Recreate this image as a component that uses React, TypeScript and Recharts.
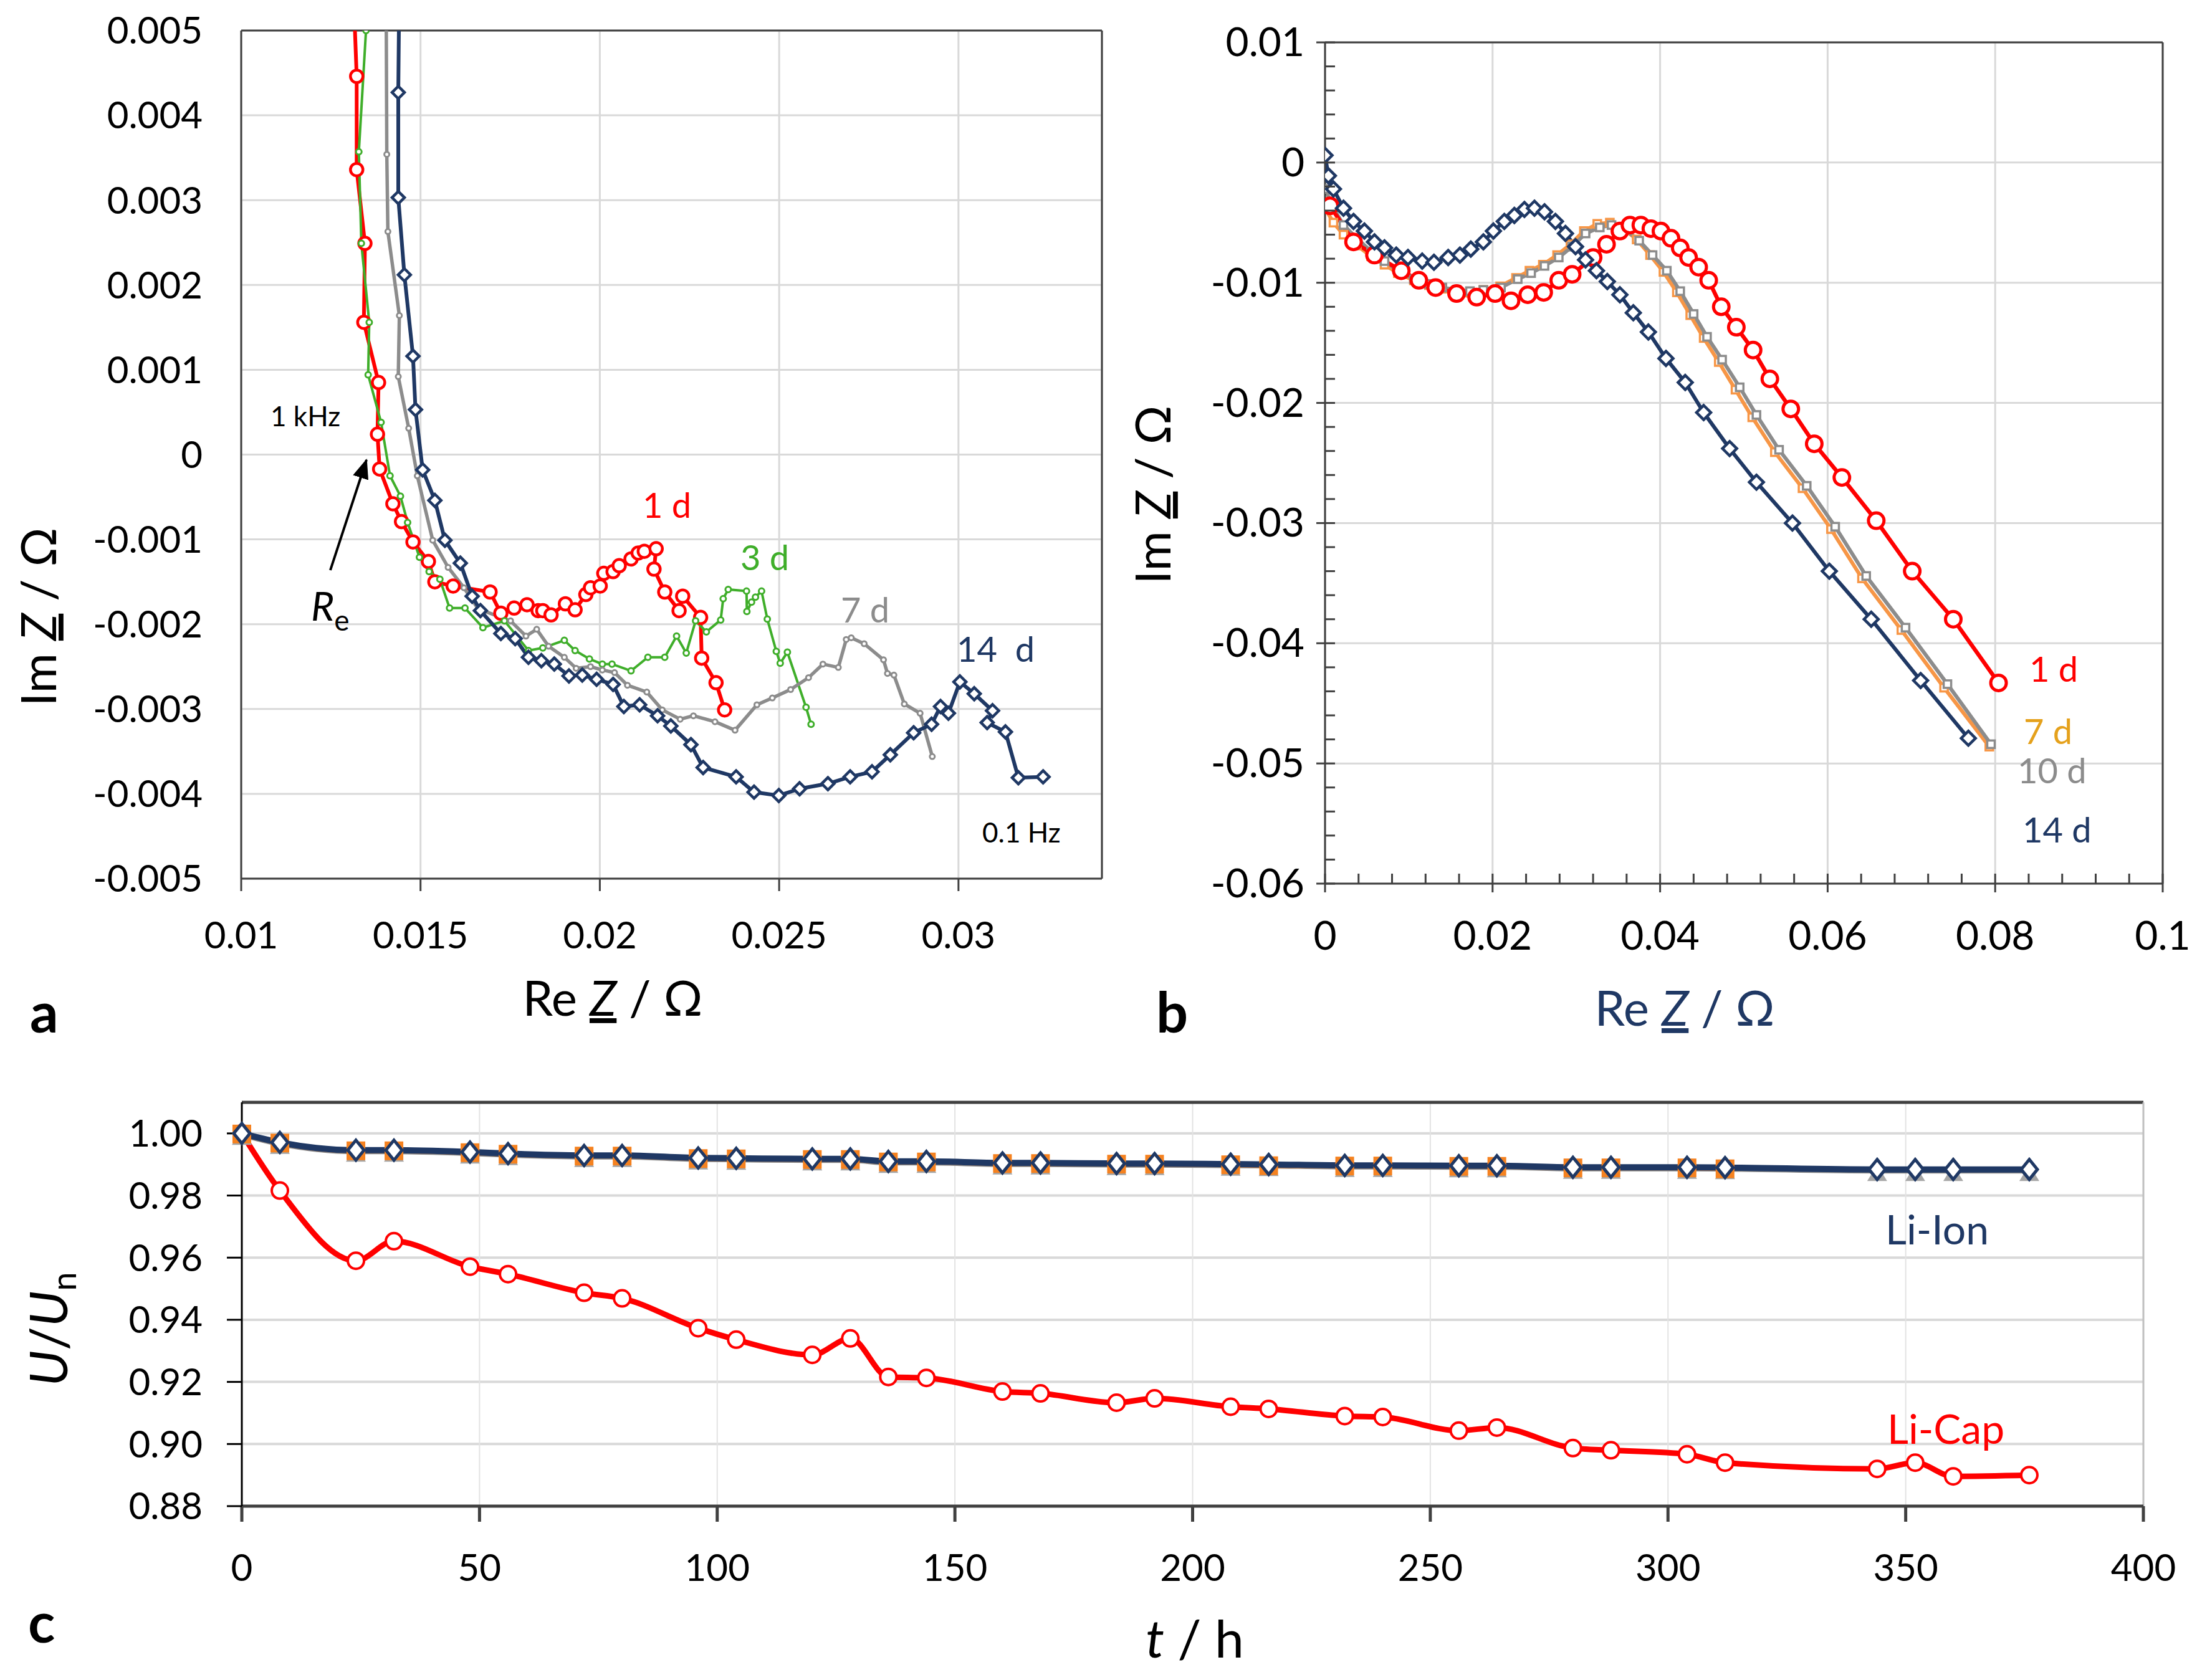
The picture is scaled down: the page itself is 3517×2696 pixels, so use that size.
import React from 'react';
import { LineChart, Line, XAxis, YAxis, CartesianGrid, ReferenceLine } from 'recharts';

const FONT = 'Lato, "Open Sans", sans-serif';
const RED = '#FF0000';
const GREEN = '#3FAE2A';
const GRAY = '#8C8C8C';
const NAVY = '#1F3864';
const ORANGE = '#F79646';
const GOLD = '#E5A11C';
const AXIS = '#404040';
const GRID = '#D9D9D9';

// ---------- panel a: Nyquist, zoomed (Re, Im) ----------
const aXTicks = [0.01, 0.015, 0.02, 0.025, 0.03];
const aYTicks = [0.005, 0.004, 0.003, 0.002, 0.001, 0, -0.001, -0.002, -0.003, -0.004, -0.005];

const a1d = [
  [0.0131, 0.0058], [0.01322, 0.00446], [0.01322, 0.00336], [0.01345, 0.00249], [0.01342, 0.00156],
  [0.01383, 0.00085], [0.0138, 0.00024], [0.01386, -0.00017], [0.01423, -0.00058], [0.01447, -0.00079],
  [0.01479, -0.00103], [0.01522, -0.00126], [0.0154, -0.0015], [0.01591, -0.00155], [0.01694, -0.00162],
  [0.01724, -0.00187], [0.01761, -0.00181], [0.01797, -0.00177], [0.01828, -0.00184], [0.01841, -0.00184],
  [0.01864, -0.00189], [0.01904, -0.00176], [0.01931, -0.00183], [0.01961, -0.00165], [0.01974, -0.00157],
  [0.02001, -0.00155], [0.02011, -0.0014], [0.02037, -0.00138], [0.02054, -0.00131], [0.02087, -0.00123],
  [0.02107, -0.00116], [0.02124, -0.00114], [0.02157, -0.00111], [0.02151, -0.00135], [0.02181, -0.00162],
  [0.02221, -0.00184], [0.02231, -0.00167], [0.02281, -0.00192], [0.02284, -0.0024], [0.02324, -0.00269],
  [0.02348, -0.00301],
];
const a3d = [
  [0.01348, 0.005], [0.01328, 0.00357], [0.01335, 0.00249], [0.01357, 0.00156], [0.01354, 0.00094],
  [0.0139, 0.00038], [0.01415, -0.00025], [0.01444, -0.00049], [0.01464, -0.0008], [0.01497, -0.00121],
  [0.01524, -0.00138], [0.01554, -0.00147], [0.01581, -0.00181], [0.01624, -0.00181], [0.01674, -0.00204],
  [0.01734, -0.00196], [0.01801, -0.00231], [0.01841, -0.00228], [0.01901, -0.00219], [0.01931, -0.00231],
  [0.01971, -0.00241], [0.02007, -0.00247], [0.02034, -0.00247], [0.02087, -0.00255], [0.02134, -0.00239],
  [0.02181, -0.00239], [0.02214, -0.00214], [0.02241, -0.00234], [0.02267, -0.00196], [0.02297, -0.00209],
  [0.02337, -0.00195], [0.02344, -0.0017], [0.02358, -0.00159], [0.02409, -0.00161], [0.0241, -0.00185],
  [0.02423, -0.00174], [0.02434, -0.00168], [0.02451, -0.00161], [0.02467, -0.00194], [0.02492, -0.00232],
  [0.02503, -0.00246], [0.02523, -0.00233], [0.02575, -0.00298], [0.02589, -0.00318],
];
const a7d = [
  [0.01404, 0.0056], [0.01406, 0.00354], [0.01409, 0.00263], [0.01441, 0.00164], [0.01438, 0.00092],
  [0.01467, 0.00031], [0.01491, -0.00025], [0.01534, -0.00101], [0.01577, -0.00133], [0.01621, -0.00157],
  [0.01661, -0.00182], [0.01751, -0.00196], [0.01794, -0.00214], [0.01824, -0.00206], [0.01857, -0.00226],
  [0.01901, -0.00239], [0.01934, -0.00252], [0.01974, -0.0025], [0.02007, -0.00254], [0.02041, -0.00257],
  [0.02077, -0.00272], [0.02131, -0.0028], [0.02174, -0.00301], [0.02224, -0.00312], [0.02261, -0.00308],
  [0.02321, -0.00315], [0.02377, -0.00325], [0.02438, -0.00295], [0.02481, -0.00287], [0.02532, -0.00277],
  [0.02582, -0.00263], [0.02622, -0.00247], [0.02665, -0.00251], [0.02687, -0.00218], [0.02701, -0.00216],
  [0.02737, -0.00223], [0.02791, -0.00242], [0.02802, -0.00258], [0.0282, -0.0026], [0.02849, -0.00294],
  [0.02893, -0.00305], [0.02927, -0.00356],
];
const a14d = [
  [0.01441, 0.0056], [0.01438, 0.00427], [0.01438, 0.00303], [0.01455, 0.00212], [0.01479, 0.00116],
  [0.01486, 0.00053], [0.01506, -0.00018], [0.0154, -0.00054], [0.01568, -0.00101], [0.01611, -0.00128],
  [0.01644, -0.00167], [0.01667, -0.00184], [0.01724, -0.00211], [0.01764, -0.00217], [0.01801, -0.00239],
  [0.01837, -0.00243], [0.01873, -0.00247], [0.01914, -0.00261], [0.01951, -0.0026], [0.01991, -0.00265],
  [0.02037, -0.00271], [0.02067, -0.00297], [0.02111, -0.00295], [0.02161, -0.00308], [0.02198, -0.0032],
  [0.02254, -0.00342], [0.02288, -0.00369], [0.0238, -0.0038], [0.0243, -0.00398], [0.02499, -0.00402],
  [0.02557, -0.00394], [0.02636, -0.00388], [0.02698, -0.0038], [0.02759, -0.00374], [0.0281, -0.00354],
  [0.02875, -0.00328], [0.02925, -0.00318], [0.0295, -0.00297], [0.02972, -0.00305], [0.03004, -0.00268],
  [0.03044, -0.00282], [0.03095, -0.00302], [0.0308, -0.00316], [0.03131, -0.00327], [0.03167, -0.00381],
  [0.03236, -0.0038],
];

// ---------- panel b: Nyquist, full ----------
const bXMajor = [0, 0.02, 0.04, 0.06, 0.08, 0.1];
const bYMajor = [0.01, 0, -0.01, -0.02, -0.03, -0.04, -0.05, -0.06];

const b1d = [
  [0.0006, -0.0036], [0.0034, -0.0066], [0.0059, -0.0077], [0.0091, -0.009], [0.0112, -0.0098],
  [0.0132, -0.0104], [0.0157, -0.0109], [0.0181, -0.0112], [0.0203, -0.0109], [0.0222, -0.0115],
  [0.0242, -0.011], [0.0261, -0.0108], [0.0279, -0.0098], [0.0295, -0.0093], [0.032, -0.0079],
  [0.0336, -0.0068], [0.0352, -0.0057], [0.0364, -0.0052], [0.0377, -0.0052], [0.0389, -0.0055],
  [0.0401, -0.0057], [0.0413, -0.0063], [0.0424, -0.0071], [0.0434, -0.0079], [0.0446, -0.0087],
  [0.0458, -0.0098], [0.0473, -0.012], [0.0491, -0.0137], [0.0511, -0.0156], [0.0531, -0.018],
  [0.0556, -0.0205], [0.0584, -0.0234], [0.0617, -0.0262], [0.0658, -0.0298], [0.0701, -0.034],
  [0.075, -0.038], [0.0804, -0.0433],
];
const b7d = [
  [0, -0.0038], [0.001, -0.005], [0.0022, -0.006], [0.0038, -0.0069], [0.0055, -0.0078],
  [0.0071, -0.0085], [0.0087, -0.0092], [0.0106, -0.0098], [0.0124, -0.0102], [0.014, -0.0105],
  [0.0157, -0.0107], [0.0173, -0.0108], [0.0189, -0.0106], [0.0209, -0.0103], [0.0228, -0.0096],
  [0.0244, -0.009], [0.026, -0.0085], [0.0277, -0.0077], [0.0293, -0.0068], [0.0309, -0.0057],
  [0.0325, -0.0051], [0.034, -0.005], [0.0356, -0.0055], [0.0372, -0.0064], [0.0388, -0.0077],
  [0.0404, -0.0091], [0.042, -0.0108], [0.0436, -0.0127], [0.0452, -0.0146], [0.047, -0.0166],
  [0.049, -0.0189], [0.051, -0.0212], [0.0537, -0.0241], [0.057, -0.0271], [0.0604, -0.0305],
  [0.0641, -0.0346], [0.0688, -0.0389], [0.0739, -0.0437], [0.0793, -0.0486],
];
const b10d = [
  [0, -0.0022], [0.001, -0.0038], [0.0022, -0.0052], [0.0038, -0.0063], [0.0055, -0.0074],
  [0.0071, -0.0082], [0.0087, -0.009], [0.0106, -0.0097], [0.0124, -0.0101], [0.014, -0.0104],
  [0.0157, -0.0106], [0.0173, -0.0107], [0.0189, -0.0106], [0.021, -0.0104], [0.023, -0.0097],
  [0.0246, -0.0092], [0.0262, -0.0086], [0.0279, -0.0079], [0.0295, -0.007], [0.0311, -0.0059],
  [0.0328, -0.0054], [0.0342, -0.0052], [0.0359, -0.0056], [0.0375, -0.0065], [0.0391, -0.0077],
  [0.0408, -0.009], [0.0424, -0.0107], [0.044, -0.0126], [0.0456, -0.0145], [0.0474, -0.0164],
  [0.0495, -0.0187], [0.0515, -0.021], [0.0542, -0.0239], [0.0575, -0.0269], [0.0609, -0.0303],
  [0.0646, -0.0344], [0.0693, -0.0387], [0.0743, -0.0434], [0.0795, -0.0484],
];
const b14d = [
  [0, 0.0006], [0.0004, -0.0011], [0.001, -0.0022], [0.0022, -0.0038], [0.0034, -0.0049],
  [0.0047, -0.0057], [0.0059, -0.0066], [0.0071, -0.0071], [0.0085, -0.0077], [0.0099, -0.0079],
  [0.0116, -0.0082], [0.013, -0.0083], [0.0147, -0.0079], [0.0161, -0.0077], [0.0174, -0.0072],
  [0.0189, -0.0066], [0.0201, -0.0057], [0.0214, -0.0049], [0.0226, -0.0044], [0.0238, -0.0039],
  [0.025, -0.0038], [0.0262, -0.0041], [0.0275, -0.0049], [0.0287, -0.0059], [0.0299, -0.007],
  [0.0311, -0.0081], [0.0324, -0.009], [0.0337, -0.0099], [0.0352, -0.011], [0.0368, -0.0125],
  [0.0386, -0.0141], [0.0407, -0.0163], [0.043, -0.0183], [0.0452, -0.0208], [0.0483, -0.0238],
  [0.0515, -0.0266], [0.0558, -0.03], [0.0602, -0.034], [0.0652, -0.038], [0.0711, -0.0431],
  [0.0768, -0.0479],
];

// ---------- panel c: voltage retention ----------
const cXTicks = [0, 50, 100, 150, 200, 250, 300, 350, 400];
const cYTicks = [0.88, 0.9, 0.92, 0.94, 0.96, 0.98, 1.0];
const hours = [0, 8, 24, 32, 48, 56, 72, 80, 96, 104, 120, 128, 136, 144, 160, 168, 184, 192, 208, 216, 232, 240, 256, 264, 280, 288, 304, 312, 344, 352, 360, 376];
const liCap = [1.0, 0.9816, 0.959, 0.9653, 0.9571, 0.9547, 0.9487, 0.9469, 0.9373, 0.9336, 0.9287, 0.934, 0.9216, 0.9213, 0.9169, 0.9163, 0.9133, 0.9147, 0.912, 0.9113, 0.909, 0.9087, 0.9043, 0.9053, 0.8987, 0.898, 0.8967, 0.894, 0.892, 0.894, 0.8896, 0.89];
const liIon = [1.0, 0.9971, 0.9946, 0.9946, 0.994, 0.9935, 0.9929, 0.9929, 0.9921, 0.992, 0.9918, 0.9918, 0.991, 0.991, 0.9905, 0.9905, 0.9903, 0.9903, 0.9901, 0.99, 0.9897, 0.9897, 0.9896, 0.9896, 0.9891, 0.9891, 0.9891, 0.989, 0.9884, 0.9884, 0.9884, 0.9884];
const liIonB = [0.9998, 0.9969, 0.9944, 0.9944, 0.9938, 0.9933, 0.9927, 0.9927, 0.9919, 0.9918, 0.9916, 0.9916, 0.9908, 0.9908, 0.9903, 0.9903, 0.9901, 0.9901, 0.9899, 0.9896, 0.9895, 0.9895, 0.9894, 0.9894, 0.9889, 0.9889, 0.9889, 0.9886, null, null, null, null];
const liIonC = [0.9995, 0.9966, 0.9941, 0.9941, 0.9935, 0.993, 0.9924, 0.9924, 0.9916, 0.9915, 0.9913, 0.9913, 0.9905, 0.9905, 0.99, 0.99, 0.9898, 0.9898, 0.9896, 0.9895, 0.9892, 0.9892, 0.9891, 0.9891, 0.9886, 0.9886, 0.9886, 0.9885, 0.9879, 0.9879, 0.9879, 0.9879];

const pts = (a: number[][]) => a.map(([x, y]) => ({ x, y }));
const cRows = hours.map((t, i) => ({ t, cap: liCap[i], ion: liIon[i], ionB: liIonB[i], ionC: liIonC[i] }));

const splitTicks = (major: number[]) => {
  const s = [...major].sort((p, q) => p - q);
  const out: number[] = [];
  for (let i = 0; i < s.length - 1; i++) {
    for (let k = 0; k < 5; k++) out.push(s[i] + ((s[i + 1] - s[i]) * k) / 5);
  }
  out.push(s[s.length - 1]);
  return out;
};
const bXTicks = splitTicks(bXMajor);
const bYTicks = splitTicks(bYMajor);
const findMajor = (list: number[], v: number) => list.find((m) => Math.abs(m - v) < 1e-9);

// ---------- marker shapes ----------
const empty = (p: any) => <g key={`e${p.index}`} />;
const circleDot = (color: string, r: number, sw: number) => (p: any) =>
  p.cx == null || p.cy == null ? empty(p) : (
    <circle key={`c${p.index}`} cx={p.cx} cy={p.cy} r={r} fill="#fff" stroke={color} strokeWidth={sw} />
  );
const diamondDot = (color: string, w: number, h: number, sw: number) => (p: any) =>
  p.cx == null || p.cy == null ? empty(p) : (
    <path key={`d${p.index}`} d={`M${p.cx},${p.cy - h}L${p.cx + w},${p.cy}L${p.cx},${p.cy + h}L${p.cx - w},${p.cy}Z`} fill="#fff" stroke={color} strokeWidth={sw} />
  );
const squareDot = (color: string, s: number, sw: number, fill = '#fff') => (p: any) =>
  p.cx == null || p.cy == null ? empty(p) : (
    <rect key={`s${p.index}`} x={p.cx - s} y={p.cy - s} width={2 * s} height={2 * s} fill={fill} stroke={color} strokeWidth={sw} />
  );
const triDot = (color: string, s: number) => (p: any) =>
  p.cx == null || p.cy == null ? empty(p) : (
    <path key={`t${p.index}`} d={`M${p.cx},${p.cy - s * 0.6}L${p.cx + s},${p.cy + s}L${p.cx - s},${p.cy + s}Z`} fill={color} />
  );

const tickFont = { fontSize: 60, fill: '#000', fontFamily: FONT };

const BTickX = (p: any) => {
  const m = findMajor(bXMajor, p.payload.value);
  return (
    <g>
      <line x1={p.x} x2={p.x} y1={p.y - 16} y2={m !== undefined ? p.y + 14 : p.y} stroke={AXIS} strokeWidth={3} />
      {m !== undefined && (
        <text x={p.x} y={p.y + 106} textAnchor="middle" fontSize={64} fontFamily={FONT} fill="#000">{String(m)}</text>
      )}
    </g>
  );
};
const BTickY = (p: any) => {
  const m = findMajor(bYMajor, p.payload.value);
  return (
    <g>
      <line x1={m !== undefined ? p.x - 14 : p.x} x2={p.x + 16} y1={p.y} y2={p.y} stroke={AXIS} strokeWidth={3} />
      {m !== undefined && (
        <text x={p.x - 33} y={p.y + 22} textAnchor="end" fontSize={64} fontFamily={FONT} fill="#000">{String(m)}</text>
      )}
    </g>
  );
};

function PanelA() {
  return (
    <div style={{ position: 'absolute', left: 0, top: 0 }}>
      <LineChart width={1800} height={1560} margin={{ top: 49, right: 32, left: 0, bottom: 0 }}>
        <CartesianGrid stroke={GRID} strokeWidth={3} />
        <XAxis type="number" dataKey="x" domain={[0.01, 0.034]} allowDataOverflow ticks={aXTicks} interval={0}
          tickFormatter={(v: number) => String(v)} height={150} tick={tickFont}
          stroke={AXIS} strokeWidth={3} tickSize={20} tickMargin={49} />
        <YAxis type="number" dataKey="y" domain={[-0.005, 0.005]} allowDataOverflow ticks={aYTicks} interval={0}
          tickFormatter={(v: number) => (v === 0 ? '0' : v.toFixed(3))} width={387} tick={tickFont}
          stroke={AXIS} strokeWidth={3} tickLine={false} tickSize={0} tickMargin={62} />
        <ReferenceLine y={0.005} stroke={AXIS} strokeWidth={3} />
        <ReferenceLine x={0.034} stroke={AXIS} strokeWidth={3} />
        <Line data={pts(a1d)} dataKey="y" stroke={RED} strokeWidth={6} dot={circleDot(RED, 10, 4.5)} activeDot={false} isAnimationActive={false} />
        <Line data={pts(a3d)} dataKey="y" stroke={GREEN} strokeWidth={4} dot={circleDot(GREEN, 4.5, 3)} activeDot={false} isAnimationActive={false} />
        <Line data={pts(a7d)} dataKey="y" stroke={GRAY} strokeWidth={5.5} dot={circleDot(GRAY, 4, 3)} activeDot={false} isAnimationActive={false} />
        <Line data={pts(a14d)} dataKey="y" stroke={NAVY} strokeWidth={6} dot={diamondDot(NAVY, 10, 10, 4.5)} activeDot={false} isAnimationActive={false} />
      </LineChart>
    </div>
  );
}

function PanelB() {
  return (
    <div style={{ position: 'absolute', left: 1800, top: 0 }}>
      <LineChart width={1717} height={1560} margin={{ top: 68, right: 47, left: 0, bottom: 0 }}>
        <CartesianGrid stroke={GRID} strokeWidth={3} verticalValues={bXMajor} horizontalValues={bYMajor} />
        <XAxis type="number" dataKey="x" domain={[0, 0.1]} allowDataOverflow ticks={bXTicks} interval={0}
          height={142} tick={<BTickX />} tickLine={false} tickSize={0} tickMargin={0} stroke={AXIS} strokeWidth={3} />
        <YAxis type="number" dataKey="y" domain={[-0.06, 0.01]} allowDataOverflow ticks={bYTicks} interval={0}
          width={326} tick={<BTickY />} tickLine={false} tickSize={0} tickMargin={0} stroke={AXIS} strokeWidth={3} />
        <ReferenceLine y={0.01} stroke={AXIS} strokeWidth={3} />
        <ReferenceLine x={0.1} stroke={AXIS} strokeWidth={3} />
        <Line data={pts(b7d)} dataKey="y" stroke={ORANGE} strokeWidth={6} dot={squareDot(ORANGE, 6, 3.5)} activeDot={false} isAnimationActive={false} />
        <Line data={pts(b10d)} dataKey="y" stroke={GRAY} strokeWidth={6} dot={squareDot(GRAY, 6, 3.5)} activeDot={false} isAnimationActive={false} />
        <Line data={pts(b1d)} dataKey="y" stroke={RED} strokeWidth={6.5} dot={circleDot(RED, 12.5, 5)} activeDot={false} isAnimationActive={false} />
        <Line data={pts(b14d)} dataKey="y" stroke={NAVY} strokeWidth={6} dot={diamondDot(NAVY, 11.5, 11.5, 4.5)} activeDot={false} isAnimationActive={false} />
      </LineChart>
    </div>
  );
}

function PanelC() {
  return (
    <div style={{ position: 'absolute', left: 0, top: 1700 }}>
      <LineChart width={3517} height={900} data={cRows} margin={{ top: 69, right: 78, left: 0, bottom: 0 }}>
        <CartesianGrid stroke={GRID} strokeWidth={4} vertical={false} />
        <CartesianGrid stroke="#E3E3E3" strokeWidth={2} horizontal={false} />
        <XAxis type="number" dataKey="t" domain={[0, 400]} ticks={cXTicks} interval={0} height={183}
          tick={tickFont} stroke={AXIS} strokeWidth={5} tickSize={25} tickMargin={52} />
        <YAxis type="number" domain={[0.88, 1.01]} allowDataOverflow ticks={cYTicks} interval={0} width={388}
          tickFormatter={(v: number) => v.toFixed(2)} tick={tickFont} stroke="#000" strokeWidth={3}
          tickSize={24} tickMargin={39} />
        <ReferenceLine y={1.01} stroke={AXIS} strokeWidth={5} />
        <ReferenceLine x={400} stroke="#BFBFBF" strokeWidth={3} />
        <Line dataKey="cap" type="monotone" stroke={RED} strokeWidth={9} dot={circleDot(RED, 13, 4)} activeDot={false} isAnimationActive={false} />
        <Line dataKey="ionC" type="monotone" stroke={GRAY} strokeWidth={8} dot={triDot('#A6A6A6', 16)} activeDot={false} isAnimationActive={false} />
        <Line dataKey="ionB" type="monotone" stroke={ORANGE} strokeWidth={8} dot={squareDot('#F58220', 15, 0, '#F58220')} activeDot={false} isAnimationActive={false} />
        <Line dataKey="ion" type="monotone" stroke={NAVY} strokeWidth={10} dot={diamondDot(NAVY, 13, 16, 5)} activeDot={false} isAnimationActive={false} />
      </LineChart>
    </div>
  );
}

const ZLabel = (props: { x: number; y: number; fill: string; size: number; transform?: string; first: string }) => (
  <text x={props.x} y={props.y} fill={props.fill} fontSize={props.size} fontFamily={FONT} textAnchor="middle" transform={props.transform}>
    {props.first}
    <tspan fontStyle="italic" textDecoration="underline">Z</tspan>
    {' / Ω'}
  </text>
);

function Overlay() {
  const lbl = { fontFamily: FONT } as const;
  return (
    <svg width={3517} height={2696} style={{ position: 'absolute', left: 0, top: 0, pointerEvents: 'none' }}>
      <defs>
        <marker id="ah" markerUnits="userSpaceOnUse" markerWidth={32} markerHeight={26} refX={30} refY={13} orient="auto">
          <path d="M0,0L32,13L0,26Z" fill="#000" />
        </marker>
      </defs>
      {/* panel letters */}
      <text x={48} y={1657} fontSize={90} fontWeight="bold" {...lbl}>a</text>
      <text x={1855} y={1657} fontSize={90} fontWeight="bold" {...lbl}>b</text>
      <text x={45} y={2636} fontSize={90} fontWeight="bold" {...lbl}>c</text>

      {/* axis titles */}
      <ZLabel x={983} y={1630} fill="#000" size={78} first="Re " />
      <ZLabel x={90} y={990} fill="#000" size={78} first="Im " transform="rotate(-90 90 990)" />
      <ZLabel x={2703} y={1646} fill={NAVY} size={78} first="Re " />
      <ZLabel x={1878} y={794} fill="#000" size={78} first="Im " transform="rotate(-90 1878 794)" />
      <text x={1917} y={2660} fontSize={84} textAnchor="middle" {...lbl}>
        <tspan fontStyle="italic">t</tspan> / h
      </text>
      <text x={108} y={2133} fontSize={84} textAnchor="middle" transform="rotate(-90 108 2133)" {...lbl}>
        <tspan fontStyle="italic">U</tspan>/<tspan fontStyle="italic">U</tspan>
        <tspan fontSize={54} dy={14}>n</tspan>
      </text>

      {/* panel a annotations */}
      <text x={1031} y={831} fontSize={56} fill={RED} {...lbl}>1 d</text>
      <text x={1188} y={915} fontSize={56} fill={GREEN} {...lbl}>3 d</text>
      <text x={1349} y={999} fontSize={56} fill={GRAY} {...lbl}>7 d</text>
      <text x={1535} y={1062} fontSize={56} fill={NAVY} {...lbl}>{'14\u00A0\u00A0d'}</text>
      <text x={434} y={684} fontSize={44} fill="#000" {...lbl}>1 kHz</text>
      <text x={1576} y={1352} fontSize={44} fill="#000" {...lbl}>0.1 Hz</text>
      <text x={499} y={996} fontSize={64} fill="#000" {...lbl}>
        <tspan fontStyle="italic">R</tspan>
        <tspan fontSize={46} dy={16}>e</tspan>
      </text>
      <line x1={530} y1={915} x2={588} y2={738} stroke="#000" strokeWidth={4} markerEnd="url(#ah)" />

      {/* panel b annotations */}
      <text x={3256} y={1094} fontSize={56} fill={RED} {...lbl}>1 d</text>
      <text x={3247} y={1194} fontSize={56} fill={GOLD} {...lbl}>7 d</text>
      <text x={3237} y={1257} fontSize={56} fill={GRAY} {...lbl}>10 d</text>
      <text x={3245} y={1352} fontSize={56} fill={NAVY} {...lbl}>14 d</text>

      {/* panel c annotations */}
      <text x={3025} y={1997} fontSize={66} fill={NAVY} {...lbl}>Li-Ion</text>
      <text x={3028} y={2317} fontSize={66} fill={RED} {...lbl}>Li-Cap</text>
    </svg>
  );
}

export default function App() {
  return (
    <div style={{ position: 'absolute', left: 0, top: 0, width: 3517, height: 2696, background: '#fff', fontFamily: FONT }}>
      <PanelA />
      <PanelB />
      <PanelC />
      <Overlay />
    </div>
  );
}
